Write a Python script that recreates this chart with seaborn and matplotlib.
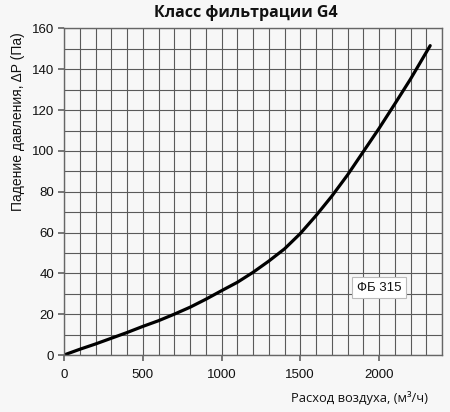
import matplotlib
matplotlib.use("Agg")
import matplotlib.pyplot as plt
import seaborn as sns
import pandas as pd
from matplotlib.ticker import MultipleLocator
from matplotlib import font_manager

airflow = [0, 100, 200, 300, 400, 500, 600, 700, 800, 900, 1000, 1100, 1200,
           1300, 1400, 1500, 1600, 1700, 1800, 1900, 2000, 2100, 2200, 2325]
pressure = [0, 2.8, 5.4, 8.2, 11.0, 14.0, 16.8, 20.0, 23.4, 27.3, 31.5, 35.6,
            40.5, 46.0, 52.0, 59.5, 68.3, 77.8, 88.2, 99.6, 111.0, 123.0, 135.2, 151.6]
x_ticks = [0, 500, 1000, 1500, 2000]
y_ticks = [0, 20, 40, 60, 80, 100, 120, 140, 160]
series_label = "ФБ 315"
title = "Класс фильтрации G4"

sns.set_theme(style="white")
plt.rcParams['font.family'] = ['Liberation Sans', 'DejaVu Sans']

names = {f.name for f in font_manager.fontManager.ttflist}
if "Liberation Sans Narrow" in names:
    title_family = ["Liberation Sans Narrow", "DejaVu Sans"]
    title_size = 12.4
else:
    title_family = ["Open Sans", "DejaVu Sans"]
    title_size = 11.5

bg = "#f7f7f7"
fig = plt.figure(figsize=(4.5, 4.12), dpi=100, facecolor=bg)
ax = fig.add_axes([64/450, 1-355/412, (442-64)/450, (355-28.5)/412])
ax.set_facecolor(bg)

df = pd.DataFrame({"x": airflow, "y": pressure})
sns.lineplot(data=df, x="x", y="y", ax=ax, color="black", linewidth=2.3)

ax.set_xlim(0, 2400)
ax.set_ylim(0, 160)
ax.set_xticks(x_ticks)
ax.set_yticks(y_ticks)
ax.xaxis.set_minor_locator(MultipleLocator(100))
ax.yaxis.set_minor_locator(MultipleLocator(10))
ax.grid(True, which="both", color="#5a5a5a", linewidth=0.8)
ax.set_axisbelow(True)
for s in ax.spines.values():
    s.set_color("#666666")
    s.set_linewidth(1.0)
ax.tick_params(axis="both", which="major", length=4, color="#666666",
               labelsize=9.5, labelcolor="#111111", direction="out", bottom=True, left=True)
ax.tick_params(axis="x", which="major", pad=6)
ax.tick_params(axis="y", which="major", pad=3)
ax.tick_params(axis="both", which="minor", length=0)
for lab in ax.get_xticklabels() + ax.get_yticklabels():
    lab.set_family(["Liberation Sans", "DejaVu Sans"])

ax.set_xlabel("")
ax.set_ylabel("")

fig.text(18/450, 1-32/412, "Падение давления, ΔP (Па)", rotation=90, ha="center", va="top",
         fontsize=10, color="#111111", family=["Liberation Sans", "DejaVu Sans"])
fig.text(428/450, 1-398/412, "Расход воздуха, (м³/ч)", ha="right", va="center",
         fontsize=9.3, family=["Open Sans", "DejaVu Sans"], color="#111111")
fig.text(246/450, 1-13/412, title, ha="center", va="center", fontsize=title_size,
         fontweight="bold", family=title_family, color="#111111")

ax.text(2000, 33, series_label, ha="center", va="center", fontsize=9.5, color="#111111",
        bbox=dict(boxstyle="square,pad=0.35", facecolor="white", edgecolor="#bbbbbb", linewidth=0.8))

fig.savefig("out.png", dpi=100, facecolor=bg)
